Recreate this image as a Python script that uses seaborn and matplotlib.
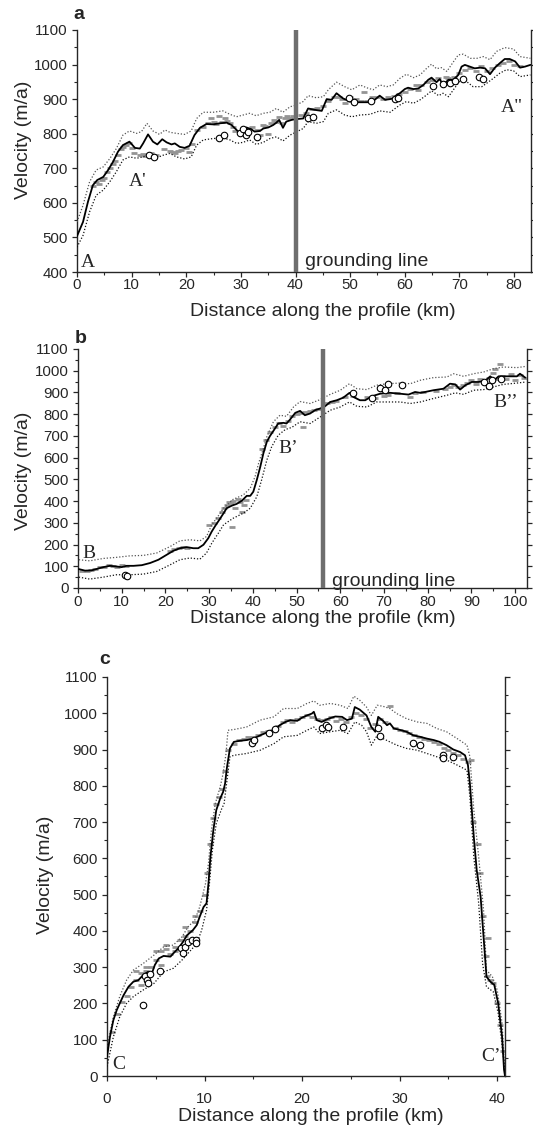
import numpy as np
import pandas as pd
import seaborn as sns
import matplotlib.pyplot as plt
from matplotlib.ticker import MultipleLocator

# ---------------- panel a ----------------
a_km = [0, 1.1, 2.0, 2.9, 3.7, 4.8, 5.7, 6.6, 7.5, 8.4, 9.6, 10.6, 11.5, 12.1, 13.0, 13.9, 14.7, 15.6,
        16.4, 17.3, 17.9, 18.8, 19.7, 20.6, 21.5, 22.5, 23.7, 24.9, 26.1, 27.4, 28.3, 29.2, 29.8, 30.4,
        31.0, 31.9, 32.5, 33.5, 34.1, 35.0, 35.9, 36.5, 37.0, 37.7, 38.3, 39.3, 40.0, 41.4, 42.3, 43.5,
        44.8, 45.7, 46.6, 47.5, 48.7, 49.9, 51.2, 52.4, 53.6, 54.5, 55.4, 56.4, 57.3, 57.9, 58.5, 59.1,
        60.0, 60.6, 61.6, 62.5, 63.4, 64.3, 64.9, 65.8, 66.4, 67.0, 68.0, 68.9, 69.8, 70.4, 71.0, 71.9,
        72.8, 73.8, 74.7, 75.6, 76.5, 77.4, 78.3, 79.2, 80.2, 81.1, 82.0, 83.0]
a_vel = [504, 545, 603, 651, 666, 675, 695, 719, 748, 767, 777, 759, 757, 772, 798, 777, 769, 784,
         775, 769, 772, 762, 759, 765, 796, 817, 828, 827, 830, 832, 825, 811, 801, 810,
         818, 813, 806, 808, 815, 818, 825, 832, 840, 817, 835, 840, 842, 844, 873, 869,
         866, 900, 898, 917, 902, 893, 891, 891, 891, 898, 910, 898, 900, 902, 912, 917,
         929, 933, 929, 931, 941, 956, 962, 949, 958, 941, 956, 956, 970, 994, 999, 994,
         989, 991, 989, 972, 991, 1004, 1016, 1016, 1009, 991, 994, 999]
a_up_km = [0, 1.1, 2.3, 3.5, 4.8, 6.0, 7.2, 8.4, 9.6, 10.9, 11.8, 12.8, 13.9, 15.1, 16.1, 17.0, 18.2,
           19.7, 20.9, 21.9, 23.1, 24.9, 26.7, 28.0, 29.2, 30.4, 31.6, 32.8, 34.1, 35.3, 36.5, 37.7,
           39.0, 40.0, 41.4, 42.3, 43.8, 45.1, 46.0, 47.5, 49.0, 50.3, 51.8, 53.0, 54.2, 55.4, 56.7,
           57.9, 59.1, 60.3, 61.6, 62.8, 64.0, 64.9, 65.8, 66.7, 67.7, 68.6, 69.8, 70.7, 72.0, 73.2,
           74.4, 75.6, 76.8, 78.3, 79.9, 81.1, 83.0]
a_up = [545, 593, 661, 695, 704, 728, 757, 796, 808, 801, 806, 830, 808, 798, 811, 804, 801,
        798, 808, 844, 862, 862, 866, 856, 849, 854, 859, 852, 859, 862, 873, 862,
        878, 882, 893, 910, 904, 907, 927, 949, 936, 927, 941, 933, 927, 941, 936,
        941, 960, 972, 962, 970, 989, 1001, 988, 991, 980, 1001, 1028, 1030, 1018, 1018,
        1023, 1014, 1038, 1049, 1045, 1023, 1018]
a_lo_km = [0, 1.1, 2.3, 3.5, 4.8, 6.0, 7.2, 8.4, 9.6, 10.9, 12.1, 13.3, 14.5, 15.8, 17.0, 18.2, 19.7,
           20.9, 21.9, 23.1, 24.9, 26.7, 28.0, 29.2, 30.4, 31.6, 32.8, 34.1, 35.3, 36.5, 37.7, 39.0,
           40.0, 41.4, 42.3, 43.8, 45.1, 46.0, 47.5, 49.0, 50.3, 51.8, 53.6, 55.4, 57.3, 59.1, 60.3,
           61.6, 62.8, 64.0, 64.9, 66.2, 67.0, 68.0, 68.9, 70.1, 71.3, 72.5, 74.1, 75.0, 76.2, 77.4,
           78.6, 79.9, 81.1, 83.0]
a_lo = [472, 506, 574, 622, 637, 661, 690, 724, 733, 729, 733, 743, 730, 738, 743, 733, 727,
        733, 767, 782, 786, 788, 782, 772, 775, 782, 769, 775, 786, 791, 779, 796,
        804, 815, 835, 830, 835, 859, 869, 854, 849, 854, 856, 866, 862, 883, 893,
        888, 898, 912, 924, 910, 917, 907, 927, 953, 951, 936, 936, 946, 960, 975,
        985, 982, 965, 970]
a_gray_km = [3.0, 3.5, 4.0, 4.5, 5.0, 5.5, 6.0, 6.5, 7.0, 7.5, 8.0, 8.5, 9.0, 9.5, 10.0, 10.5, 11.5,
             12.0, 12.5, 13.5, 14.5, 16.0, 17.0, 17.5, 18.0, 18.5, 19.0, 20.0, 20.5, 21.0, 22.0, 23.0,
             24.0, 24.5, 25.0, 25.5, 26.0, 26.5, 27.0, 27.5, 28.0, 28.5, 29.0, 30.0, 31.0, 32.0, 33.0,
             33.5, 34.0, 34.5, 35.0, 35.5, 36.0, 36.5, 37.0, 37.5, 38.0, 38.5, 39.0, 39.5, 41.0, 42.0,
             43.0, 44.0, 45.0, 46.0, 47.0, 48.0, 48.5, 49.0, 50.0, 51.0, 52.0, 52.5, 53.0, 54.0, 55.0,
             56.0, 57.0, 58.0, 59.0, 60.0, 61.0, 62.0, 62.5, 63.0, 64.0, 65.0, 66.0, 67.0, 67.5, 68.0,
             69.0, 70.0, 71.0, 72.0, 73.0, 74.0, 75.0, 76.0, 77.0, 78.0, 79.0, 80.0, 81.0]
a_gray_vel = [650, 660, 655, 665, 672, 688, 700, 712, 722, 738, 755, 762, 768, 772, 760, 745, 738,
              740, 735, 745, 738, 755, 750, 748, 745, 750, 752, 758, 748, 770, 810, 820,
              830, 845, 835, 828, 850, 835, 845, 838, 830, 820, 808, 800, 815, 820, 810,
              795, 825, 822, 800, 830, 840, 835, 848, 830, 845, 852, 845, 850, 855, 860,
              870, 875, 880, 895, 905, 905, 900, 890, 905, 900, 895, 920, 895, 905, 905,
              900, 905, 908, 915, 920, 930, 940, 925, 940, 950, 955, 960, 948, 965, 960,
              965, 975, 985, 990, 980, 995, 980, 990, 1000, 1005, 1010, 1000, 995]
a_obs_km = [13.1, 14.1, 25.9, 26.9, 29.8, 30.4, 31.0, 31.3, 33.0, 42.3, 43.2, 49.8, 50.7, 53.8, 58.2,
            58.8, 65.2, 67.0, 68.3, 69.2, 70.7, 73.5, 74.4]
a_obs_vel = [738, 733, 789, 795, 802, 813, 796, 806, 790, 846, 849, 904, 893, 895, 900,
             902, 938, 943, 946, 951, 957, 963, 958]

# ---------------- panel b ----------------
b_km = [0.2, 1.6, 3.1, 4.7, 5.8, 7.3, 8.8, 10.0, 11.1, 12.7, 14.6, 16.5, 18.4, 20.3, 21.8, 23.3, 24.9,
        26.4, 27.5, 28.7, 29.8, 30.6, 31.4, 32.3, 33.3, 34.0, 35.2, 36.3, 37.5, 38.6, 39.4, 40.1, 40.9,
        41.7, 42.4, 43.2, 43.9, 44.9, 45.8, 47.0, 47.7, 48.5, 49.7, 50.8, 51.9, 53.1, 54.2, 55.4, 56.5,
        57.7, 59.2, 60.7, 62.1, 63.0, 64.5, 65.7, 67.2, 69.1, 71.4, 73.7, 75.6, 77.1, 78.3, 79.4, 81.3,
        83.6, 85.1, 86.3, 87.4, 88.6, 90.1, 91.6, 93.1, 94.3, 95.2, 96.2, 97.3, 98.9, 100.4, 101.1, 102.3]
b_vel = [87, 80, 81, 90, 96, 102, 99, 96, 102, 102, 105, 115, 130, 153, 171, 183, 188,
         183, 183, 199, 229, 260, 286, 313, 344, 367, 379, 387, 402, 424, 424, 443, 497,
         558, 619, 673, 699, 729, 757, 760, 757, 775, 806, 815, 795, 803, 818, 826, 836,
         856, 864, 876, 898, 879, 864, 864, 882, 894, 898, 894, 890, 902, 898, 902, 910,
         917, 940, 937, 913, 933, 948, 948, 953, 974, 956, 974, 974, 974, 974, 986, 968]
b_up_km = [0.2, 2.7, 5.8, 8.8, 11.9, 15.0, 18.0, 21.1, 23.3, 25.6, 27.9, 29.4, 30.6, 32.1, 33.3, 35.5,
           37.8, 39.4, 40.5, 41.3, 42.3, 43.2, 44.7, 46.2, 47.7, 49.3, 50.8, 53.1, 55.4, 57.7, 60.0,
           62.1, 63.8, 66.1, 68.3, 70.6, 73.7, 76.0, 78.3, 81.3, 84.4, 85.9, 88.2, 90.5, 92.8, 95.0,
           97.3, 100.4, 102.5]
b_up = [130, 125, 136, 141, 148, 150, 161, 191, 217, 222, 217, 237, 291, 332, 367, 408,
        428, 459, 512, 573, 635, 696, 765, 795, 790, 833, 858, 849, 867, 891, 910,
        940, 917, 913, 933, 940, 943, 940, 956, 968, 971, 986, 974, 986, 994, 1009,
        1017, 1014, 1020]
b_lo_km = [0.2, 2.7, 5.8, 8.8, 11.9, 15.0, 18.0, 21.1, 23.3, 25.6, 27.9, 29.4, 30.6, 32.1, 33.3, 35.5,
           37.8, 39.4, 40.9, 42.0, 43.2, 44.3, 45.8, 47.4, 48.9, 50.8, 53.1, 55.4, 57.7, 60.0, 62.1,
           63.8, 66.1, 68.3, 70.6, 73.7, 76.0, 78.3, 81.3, 84.4, 86.3, 88.2, 90.5, 92.8, 95.0, 97.3,
           100.4, 102.5]
b_lo = [50, 41, 50, 61, 61, 64, 76, 107, 130, 138, 133, 161, 206, 252, 291, 321,
        344, 367, 420, 497, 589, 650, 703, 729, 739, 765, 757, 787, 818, 833, 856,
        836, 833, 856, 856, 856, 849, 856, 872, 887, 898, 891, 910, 913, 925, 937,
        943, 948]
b_gray_km = [1.0, 2.0, 3.0, 4.0, 5.0, 6.0, 7.0, 8.0, 9.0, 10.0, 11.0, 21.0, 22.0, 23.0, 24.0, 25.0,
             30.0, 31.0, 32.0, 33.0, 33.5, 34.0, 34.5, 35.0, 35.2, 35.5, 36.0, 36.5, 37.0, 37.5, 38.0,
             38.5, 42.0, 43.0, 44.0, 45.0, 46.0, 47.0, 48.0, 49.0, 50.0, 51.0, 51.5, 52.0, 53.0, 54.0,
             55.0, 57.0, 58.0, 59.0, 61.0, 63.0, 66.0, 68.0, 70.0, 71.0, 73.0, 76.0, 77.0, 79.0, 82.0,
             84.0, 85.0, 86.0, 87.0, 88.0, 89.0, 90.0, 91.0, 92.0, 93.0, 94.0, 95.0, 95.5, 96.0, 96.5,
             97.0, 98.0, 99.0, 100.0, 101.0, 102.0]
b_gray_vel = [80, 78, 85, 88, 95, 98, 105, 100, 95, 105, 100, 170, 178, 182, 188, 185,
              290, 300, 320, 350, 370, 380, 395, 390, 280, 400, 370, 410, 395, 350, 380,
              405, 640, 680, 720, 740, 760, 745, 770, 790, 800, 805, 740, 810, 815, 820,
              825, 850, 855, 862, 880, 885, 880, 875, 885, 890, 895, 880, 895, 900, 905,
              915, 925, 935, 925, 935, 945, 955, 940, 960, 945, 965, 990, 1010, 960, 1030,
              975, 960, 985, 955, 980, 965]
b_obs_km = [10.8, 11.1, 63.0, 67.2, 69.1, 70.2, 70.9, 74.1, 92.8, 93.9, 94.7, 96.7]
b_obs_vel = [60, 55, 898, 872, 922, 913, 937, 933, 948, 928, 956, 963]

# ---------------- panel c ----------------
c_km = [0, 0.3, 0.65, 1.0, 1.3, 1.7, 2.2, 2.7, 3.2, 3.7, 4.2, 4.6, 4.9, 5.3, 5.8, 6.5, 6.8, 7.3, 7.8,
        8.2, 8.8, 9.2, 9.5, 9.9, 10.2, 10.4, 10.6, 10.9, 11.2, 11.6, 11.9, 12.1, 12.3, 12.6, 13.0,
        13.6, 14.3, 15.0, 15.7, 16.4, 17.1, 17.7, 18.3, 18.8, 19.5, 20.0, 20.5, 21.0, 21.2, 21.5,
        22.0, 22.7, 23.4, 24.1, 24.6, 25.1, 25.4, 25.9, 26.6, 27.1, 27.5, 27.8, 28.3, 28.7, 29.0,
        29.4, 29.9, 30.7, 31.4, 32.1, 32.8, 33.5, 34.1, 34.8, 35.5, 36.2, 36.7, 37.0, 37.2, 37.6,
        37.9, 38.3, 38.6, 38.9, 39.3, 39.7, 40.1, 40.5, 40.7, 40.8]
c_vel = [53, 108, 154, 182, 200, 223, 246, 260, 264, 278, 287, 283, 306, 324, 331, 329, 338, 352, 370,
         388, 402, 416, 439, 466, 476, 531, 604, 678, 733, 765, 783, 806, 852, 903, 921,
         924, 926, 930, 939, 947, 953, 967, 976, 981, 979, 988, 994, 999, 1004, 981,
         976, 985, 991, 990, 981, 985, 1017, 1010, 994, 962, 949, 990, 979, 967, 972,
         958, 955, 949, 939, 935, 930, 926, 921, 912, 900, 893, 884, 857, 806, 659,
         567, 494, 384, 274, 260, 251, 200, 108, 17, 0]
c_up_km = [0, 0.65, 1.3, 2.0, 2.7, 3.7, 4.8, 5.8, 6.8, 7.7, 8.3, 9.0, 9.5, 10.1, 10.4, 10.7, 11.1,
           11.6, 11.9, 12.2, 12.4, 13.0, 14.3, 15.7, 17.1, 18.1, 19.5, 20.5, 21.2, 21.8, 22.9, 23.9,
           24.7, 25.3, 25.9, 26.6, 27.1, 27.7, 28.3, 29.0, 29.7, 30.7, 31.8, 32.8, 33.8, 34.8, 35.9,
           36.9, 37.2, 37.6, 38.1, 38.6, 38.9, 39.5, 40.0, 40.5, 40.8]
c_up = [81, 163, 219, 264, 292, 310, 333, 356, 361, 384, 411, 430, 466, 531, 586, 678, 751,
        797, 834, 889, 953, 955, 962, 981, 990, 1013, 1013, 1027, 1034, 1022, 1027, 1022,
        1013, 1047, 1036, 1017, 994, 1022, 1019, 1013, 999, 985, 976, 972, 958, 949, 930,
        912, 880, 733, 604, 457, 292, 274, 237, 145, 0]
c_lo_km = [0, 0.65, 1.3, 2.0, 2.7, 3.7, 4.8, 5.8, 6.8, 7.7, 8.3, 9.2, 9.7, 10.2, 10.5, 10.8, 11.2,
           11.7, 12.0, 12.3, 12.6, 13.0, 14.3, 15.7, 17.1, 18.1, 19.5, 20.5, 21.2, 21.8, 22.9, 23.9,
           24.7, 25.4, 26.1, 26.6, 27.1, 27.7, 28.3, 29.0, 29.7, 30.7, 31.8, 32.8, 33.8, 34.8, 35.9,
           36.9, 37.2, 37.6, 38.1, 38.5, 38.9, 39.6, 40.1, 40.6, 40.8]
c_lo = [26, 108, 163, 200, 219, 237, 255, 287, 297, 320, 338, 365, 402, 457, 531, 623, 696,
        733, 751, 815, 880, 884, 889, 898, 916, 935, 939, 953, 962, 944, 949, 953,
        944, 976, 967, 949, 912, 939, 930, 921, 912, 903, 898, 889, 880, 871, 857,
        843, 770, 604, 476, 310, 246, 232, 173, 62, 0]
c_gray_km = [0.5, 1.0, 1.5, 2.0, 2.5, 3.0, 3.0, 3.5, 3.5, 4.0, 4.0, 4.5, 5.0, 5.0, 5.5, 5.5, 6.0, 6.0,
             6.5, 7.0, 7.0, 7.5, 8.0, 8.0, 8.5, 9.0, 9.0, 9.5, 10.0, 10.3, 10.6, 10.9, 11.2, 11.5,
             11.8, 12.1, 12.4, 13.0, 13.5, 14.0, 14.5, 15.0, 15.5, 16.0, 16.5, 17.0, 17.5, 18.0, 18.5,
             19.0, 19.5, 20.0, 20.5, 21.0, 21.5, 22.0, 22.5, 23.0, 23.5, 24.0, 24.5, 25.0, 25.5, 26.0,
             26.5, 27.0, 27.5, 28.0, 28.5, 29.0, 29.5, 30.0, 30.5, 31.0, 31.5, 32.0, 32.5, 33.0, 33.5,
             34.0, 34.5, 35.0, 35.5, 36.0, 36.5, 37.0, 37.3, 37.5, 38.0, 38.2, 38.5, 38.8, 39.0, 39.1,
             39.3, 39.6, 40.0, 40.3, 40.6]
c_gray_vel = [120, 170, 205, 220, 245, 265, 290, 285, 250, 290, 300, 300, 320, 345, 345, 305, 350, 360,
              335, 345, 355, 375, 385, 410, 400, 425, 440, 455, 500, 560, 640, 710, 750, 770,
              790, 840, 900, 915, 925, 928, 935, 935, 940, 948, 950, 955, 965, 975, 980,
              975, 985, 990, 995, 990, 985, 980, 985, 990, 978, 985, 975, 990, 1000, 995,
              985, 960, 970, 985, 975, 1020, 960, 955, 950, 945, 940, 935, 930, 925, 920,
              915, 905, 900, 890, 885, 875, 865, 870, 700, 640, 560, 440, 330, 275, 380,
              265, 255, 200, 140, 70]
c_obs_km = [3.66, 3.9, 4.1, 4.2, 4.4, 5.4, 7.55, 7.76, 8.0, 8.3, 8.75, 9.1, 9.1, 14.9, 15.1, 16.65,
            17.2, 22.0, 22.4, 22.7, 24.2, 27.8, 28.0, 31.4, 32.1, 34.4, 34.4, 35.5]
c_obs_vel = [196, 275, 264, 255, 281, 290, 352, 338, 356, 370, 376, 376, 367, 918, 927, 946,
             957, 958, 967, 962, 962, 958, 937, 918, 912, 885, 876, 878]

grounding = {"a": 40.0, "b": 56.0}

sns.set_style("ticks")
plt.rcParams['font.family'] = ['Liberation Sans', 'DejaVu Sans']
plt.rcParams['xtick.direction'] = 'out'
plt.rcParams['ytick.direction'] = 'out'

fig = plt.figure(figsize=(5.33, 11.26), dpi=100)
ax_a = fig.add_axes([0.1445, 0.7584, 0.8517, 0.2150])
ax_b = fig.add_axes([0.1463, 0.4778, 0.8424, 0.2123])
ax_c = fig.add_axes([0.2008, 0.0444, 0.7467, 0.3544])

panels = [
    (ax_a, "a", a_km, a_vel, a_up_km, a_up, a_lo_km, a_lo, a_gray_km, a_gray_vel, a_obs_km, a_obs_vel,
     (0, 83.1), (400, 1100)),
    (ax_b, "b", b_km, b_vel, b_up_km, b_up, b_lo_km, b_lo, b_gray_km, b_gray_vel, b_obs_km, b_obs_vel,
     (0, 102.7), (0, 1100)),
    (ax_c, "c", c_km, c_vel, c_up_km, c_up, c_lo_km, c_lo, c_gray_km, c_gray_vel, c_obs_km, c_obs_vel,
     (0, 40.8), (0, 1100)),
]

# label positions in axes fractions
xlab_pos = {"a": (0.542, -0.128), "b": (0.545, -0.092), "c": (0.513, -0.080)}
ylab_pos = {"a": (-0.099, 0.545), "b": (-0.102, 0.49), "c": (-0.133, 0.504)}
xtick_pad = {"a": 0.5, "b": 1.5, "c": 8.0}
# panel letters, figure fractions
letter_pos = {"a": (0.137, 0.983), "b": (0.140, 0.695), "c": (0.186, 0.410)}

for ax, name, km, vel, up_km, up, lo_km, lo, g_km, g_vel, o_km, o_vel, xlim, ylim in panels:
    gray = pd.DataFrame({"km": g_km, "vel": g_vel})
    sns.scatterplot(data=gray, x="km", y="vel", ax=ax, marker="_", s=16, color="#949494",
                    linewidth=2.0, zorder=2)
    sns.lineplot(x=up_km, y=up, ax=ax, color="#555555", lw=0.9, linestyle=(0, (1, 1.5)), zorder=3)
    sns.lineplot(x=lo_km, y=lo, ax=ax, color="#111111", lw=0.9, linestyle=(0, (1, 1.5)), zorder=3)
    sns.lineplot(x=km, y=vel, ax=ax, color="black", lw=1.3, zorder=4)
    obs = pd.DataFrame({"km": o_km, "vel": o_vel})
    sns.scatterplot(data=obs, x="km", y="vel", ax=ax, marker="o", s=22, facecolor="white",
                    edgecolor="black", linewidth=0.8, zorder=5)

    if name in grounding:
        ax.axvline(grounding[name], color="#6e6e6e", lw=3.2, zorder=6)

    ax.set_xlim(*xlim)
    ax.set_ylim(*ylim)
    ax.yaxis.set_major_locator(MultipleLocator(100))
    ax.yaxis.set_minor_locator(MultipleLocator(50))
    ax.xaxis.set_major_locator(MultipleLocator(10))
    ax.xaxis.set_minor_locator(MultipleLocator(5))
    ax.tick_params(which="major", length=3.6, width=0.9, labelsize=10.8,
                   right=True, labelright=False)
    ax.tick_params(which="minor", length=2.4, width=0.8, right=True)
    ax.tick_params(axis="y", which="major", pad=3)
    ax.tick_params(axis="x", which="major", pad=xtick_pad[name])
    sns.despine(ax=ax, top=True, right=False)
    for side in ["left", "bottom", "right"]:
        ax.spines[side].set_linewidth(1.0)
    ax.set_xlabel("Distance along the profile (km)", fontsize=14)
    ax.set_ylabel("Velocity (m/a)", fontsize=14)
    ax.xaxis.set_label_coords(*xlab_pos[name])
    ax.yaxis.set_label_coords(*ylab_pos[name])
    fx, fy = letter_pos[name]
    fig.text(fx, fy, name, fontsize=14, fontweight="bold", ha="left", va="baseline")

serif = ['Liberation Serif', 'DejaVu Serif']
ax_a.text(0.7, 415, "A", family=serif, fontsize=14)
ax_a.text(9.5, 650, "A'", family=serif, fontsize=14)
ax_a.text(77.5, 862, "A\"", family=serif, fontsize=14)
ax_a.text(41.7, 418, "grounding line", fontsize=14)

ax_b.text(1.0, 140, "B", family=serif, fontsize=14)
ax_b.text(45.8, 620, "B\u2019", family=serif, fontsize=14)
ax_b.text(95.0, 835, "B\u2019\u2019", family=serif, fontsize=14)
ax_b.text(58.2, 8, "grounding line", fontsize=14)

ax_c.text(0.55, 20, "C", family=serif, fontsize=14)
ax_c.text(38.4, 40, "C\u2019", family=serif, fontsize=14)

fig.savefig("out.png", dpi=100)
